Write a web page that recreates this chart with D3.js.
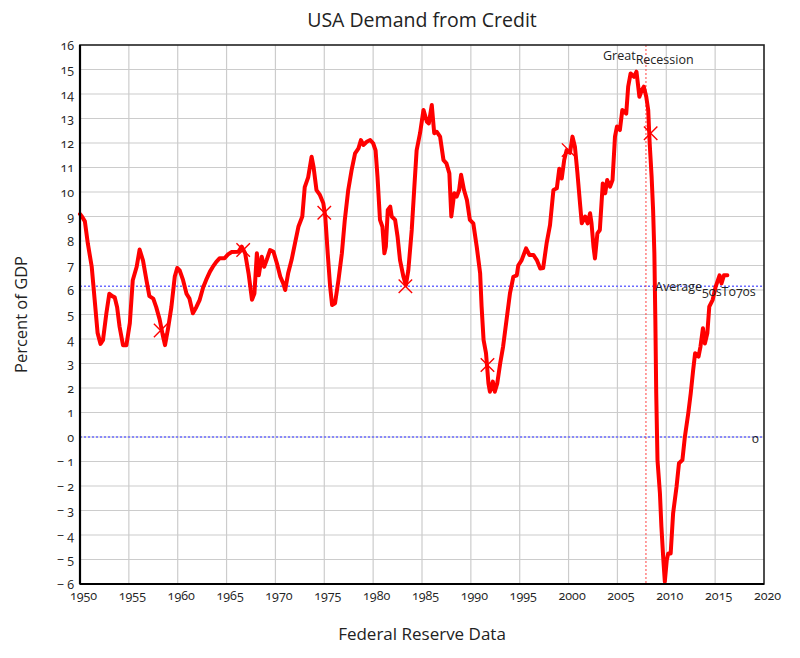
<!DOCTYPE html>
<html><head><meta charset="utf-8">
<script src="https://cdn.jsdelivr.net/npm/d3@7"></script>
<style>
body{margin:0;background:#fff;}
text{font-family:"Open Sans","Lato",sans-serif;fill:#222;}
.num{font-variant-numeric:oldstyle-nums;}
</style></head>
<body><svg id="c" width="800" height="658"></svg>
<script>
const years = [1950.0,1950.2,1950.5,1950.8,1951.2,1951.5,1951.8,1952.1,1952.35,1952.7,1953.0,1953.3,1953.55,1953.8,1954.05,1954.4,1954.75,1955.1,1955.4,1955.8,1956.1,1956.45,1956.8,1957.1,1957.5,1957.8,1958.15,1958.5,1958.7,1959.0,1959.35,1959.7,1959.95,1960.2,1960.55,1960.9,1961.2,1961.55,1961.9,1962.25,1962.6,1962.9,1963.3,1963.6,1963.95,1964.3,1964.8,1965.15,1965.5,1966.2,1966.55,1966.9,1967.25,1967.6,1967.85,1968.1,1968.3,1968.6,1968.85,1969.1,1969.45,1969.8,1970.15,1970.5,1970.8,1971.0,1971.3,1971.65,1972.0,1972.35,1972.75,1973.0,1973.35,1973.7,1973.9,1974.2,1974.55,1974.9,1975.1,1975.35,1975.6,1975.8,1976.1,1976.45,1976.8,1977.1,1977.45,1977.8,1978.15,1978.5,1978.75,1979.0,1979.35,1979.7,1980.0,1980.25,1980.45,1980.7,1980.95,1981.15,1981.3,1981.5,1981.75,1981.9,1982.25,1982.5,1982.75,1983.1,1983.35,1983.6,1983.95,1984.2,1984.45,1984.8,1985.15,1985.5,1985.7,1986.0,1986.25,1986.5,1986.85,1987.2,1987.5,1987.8,1988.0,1988.3,1988.55,1988.8,1989.0,1989.3,1989.6,1989.9,1990.25,1990.6,1990.95,1991.1,1991.3,1991.55,1991.8,1991.95,1992.25,1992.45,1992.7,1993.0,1993.3,1993.65,1994.0,1994.35,1994.7,1994.85,1995.2,1995.65,1996.0,1996.4,1996.75,1997.1,1997.4,1997.75,1998.1,1998.45,1998.8,1999.05,1999.3,1999.55,1999.8,2000.15,2000.4,2000.65,2000.9,2001.2,2001.35,2001.7,2001.95,2002.2,2002.35,2002.55,2002.7,2002.95,2003.2,2003.5,2003.75,2003.95,2004.25,2004.5,2004.75,2004.95,2005.25,2005.5,2005.9,2006.1,2006.35,2006.7,2006.95,2007.25,2007.5,2007.7,2007.95,2008.15,2008.3,2008.5,2008.65,2008.78,2008.88,2008.97,2009.1,2009.35,2009.5,2009.7,2009.85,2010.05,2010.2,2010.45,2010.7,2011.05,2011.3,2011.65,2011.9,2012.25,2012.5,2012.75,2012.95,2013.3,2013.5,2013.75,2013.95,2014.2,2014.4,2014.75,2015.05,2015.45,2015.65,2015.9,2016.25];
const values = [9.1,9.0,8.8,7.9,6.95,5.6,4.25,3.8,3.95,5.05,5.85,5.75,5.7,5.3,4.5,3.75,3.75,4.65,6.4,6.95,7.65,7.2,6.4,5.75,5.65,5.3,4.8,4.1,3.75,4.4,5.3,6.55,6.9,6.8,6.4,5.85,5.65,5.05,5.3,5.6,6.1,6.4,6.75,6.95,7.15,7.3,7.3,7.45,7.55,7.56,7.77,7.5,6.68,5.6,5.86,7.5,6.6,7.36,6.95,7.22,7.63,7.56,7.09,6.54,6.27,6.0,6.68,7.22,7.9,8.58,9.0,10.2,10.6,11.44,11.03,10.08,9.88,9.54,9.0,7.5,6.13,5.39,5.46,6.4,7.5,8.86,10.08,10.9,11.58,11.78,12.12,11.92,12.05,12.12,11.99,11.7,10.6,8.86,8.58,7.5,7.77,9.27,9.4,9.0,8.86,8.18,7.22,6.54,6.2,6.8,8.45,10.1,11.7,12.4,13.35,12.87,12.8,13.55,12.4,12.46,12.26,11.3,11.17,10.76,9.0,9.95,9.81,10.08,10.7,10.08,9.67,8.86,8.72,7.77,6.68,5.32,3.96,3.42,2.19,1.85,2.26,1.85,2.19,3.0,3.69,4.78,5.86,6.54,6.6,7.0,7.22,7.7,7.43,7.43,7.22,6.88,6.9,7.9,8.65,10.08,10.15,10.95,10.55,11.3,11.71,11.6,12.26,11.85,10.8,9.4,8.72,9.0,8.72,9.13,8.72,7.77,7.29,8.31,8.45,10.35,9.95,10.49,10.22,10.49,12.26,12.67,12.53,13.35,13.2,14.3,14.84,14.7,14.91,13.89,14.16,14.3,13.89,13.35,11.99,10.62,9.27,7.5,4.8,1.8,-0.94,-2.3,-3.66,-5.02,-5.9,-5.02,-4.75,-4.75,-3.11,-2.03,-1.07,-0.94,0.0,0.97,1.78,2.73,3.42,3.28,3.69,4.44,3.82,4.23,5.32,5.6,6.13,6.6,6.27,6.6,6.6];
const markerYears = [1958.25,1966.7,1975.0,1983.3,1991.7,2000.0,2008.4];
const markerValues = [4.35,7.63,9.15,6.15,2.94,11.71,12.4];
const yTicks = d3.range(-6,17,1);
const xTicks = d3.range(1950,2021,5);
const averageValue = 6.15;
const recessionYear = 2007.92;

const svg = d3.select("#c");
const L=80,R=764,T=45,B=584;
const x = d3.scaleLinear().domain([1950,2020]).range([L,R]);
const y = d3.scaleLinear().domain([-6,16]).range([B,T]);

// grid
svg.append("g").selectAll("line").data(xTicks.slice(1,-1)).join("line")
  .attr("x1",d=>x(d)).attr("x2",d=>x(d)).attr("y1",T).attr("y2",B)
  .attr("stroke","#cccccc").attr("stroke-width",1.2);
svg.append("g").selectAll("line").data(yTicks.slice(1,-1)).join("line")
  .attr("y1",d=>y(d)).attr("y2",d=>y(d)).attr("x1",L).attr("x2",R)
  .attr("stroke","#cccccc").attr("stroke-width",1.2);

// reference lines
svg.append("line").attr("x1",L).attr("x2",R).attr("y1",y(averageValue)).attr("y2",y(averageValue))
  .attr("stroke","#6b6bff").attr("stroke-width",1.5).attr("stroke-dasharray","2,2");
svg.append("line").attr("x1",L).attr("x2",R).attr("y1",y(0)).attr("y2",y(0))
  .attr("stroke","#6b6bff").attr("stroke-width",1.5).attr("stroke-dasharray","2,2");
svg.append("line").attr("x1",x(recessionYear)).attr("x2",x(recessionYear)).attr("y1",T).attr("y2",B)
  .attr("stroke","#ff4040").attr("stroke-width",1).attr("stroke-dasharray","2,2");

// data line
const data = years.map((yr,i)=>[yr,values[i]]);
svg.append("path").datum(data)
  .attr("d",d3.line().x(d=>x(d[0])).y(d=>y(d[1])))
  .attr("fill","none").attr("stroke","#ff0000").attr("stroke-width",4)
  .attr("stroke-linejoin","round").attr("stroke-linecap","round");

// markers
const sym = d3.symbol().type(d3.symbolTimes || d3.symbolCross).size(120);
svg.append("g").selectAll("path").data(markerYears.map((yr,i)=>[yr,markerValues[i]])).join("path")
  .attr("transform",d=>`translate(${x(d[0])},${y(d[1])})`)
  .attr("d",sym).attr("fill","none").attr("stroke","#ff0000").attr("stroke-width",1.4);

// frame
svg.append("rect").attr("x",L).attr("y",T).attr("width",R-L).attr("height",B-T)
  .attr("fill","none").attr("stroke","#222").attr("stroke-width",1.6);
svg.append("line").attr("x1",L).attr("x2",L).attr("y1",T).attr("y2",B).attr("stroke","#000").attr("stroke-width",2.2);
svg.append("line").attr("x1",L).attr("x2",R).attr("y1",B).attr("y2",B).attr("stroke","#000").attr("stroke-width",2.2);

// axes
const ya = svg.append("g").attr("transform",`translate(${L},0)`)
  .call(d3.axisLeft(y).tickValues(yTicks).tickSize(0).tickPadding(6)
    .tickFormat(d=>d<0?"\u2212 "+Math.abs(d):String(d)));
ya.select(".domain").remove();
ya.selectAll("text").attr("class","num").attr("font-size",12.5).attr("fill","#222")
  .style("font-family","'Open Sans',sans-serif");
const xa = svg.append("g").attr("transform",`translate(0,${B})`)
  .call(d3.axisBottom(x).tickValues(xTicks).tickSize(0).tickPadding(7).tickFormat(d=>String(d)));
xa.select(".domain").remove();
xa.selectAll("text").attr("class","num").attr("font-size",12.5).attr("fill","#222").attr("dx",3)
  .style("font-family","'Open Sans',sans-serif");

// titles
svg.append("text").attr("x",(L+R)/2).attr("y",27).attr("text-anchor","middle").attr("font-size",19.5).text("USA Demand from Credit");
svg.append("text").attr("x",(L+R)/2).attr("y",640).attr("text-anchor","middle").attr("font-size",17).text("Federal Reserve Data");
svg.append("text").attr("transform",`translate(27,${(T+B)/2}) rotate(-90)`).attr("text-anchor","middle").attr("font-size",16.5).text("Percent of GDP");

// annotations
const ann1 = svg.append("text").attr("x",603).attr("y",60).attr("font-size",12.5);
ann1.append("tspan").text("Great");
ann1.append("tspan").attr("dy",4).text("Recession");
const ann2 = svg.append("text").attr("x",655).attr("y",291).attr("font-size",12.5);
ann2.append("tspan").text("Average");
ann2.append("tspan").attr("dy",5).attr("class","num").text("50sTo70s");
svg.append("text").attr("x",752).attr("y",443).attr("font-size",12.5).attr("class","num").text("0");
</script></body></html>
